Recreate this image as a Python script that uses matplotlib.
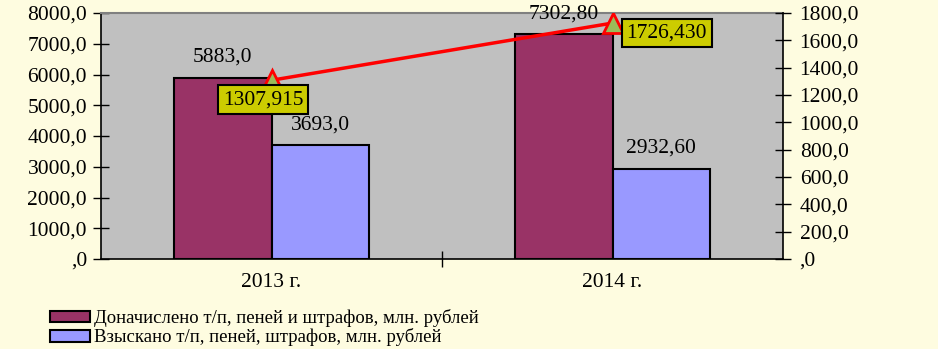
import matplotlib.pyplot as plt
import numpy as np

plt.rcParams['font.family'] = ['Liberation Serif', 'DejaVu Serif']

years = ['2013 г.', '2014 г.']
accrued = [5883.0, 7302.80]
collected = [3693.0, 2932.60]
accrued_lbl = ['5883,0', '7302,80']
collected_lbl = ['3693,0', '2932,60']
ratio = [1307.915, 1726.430]
ratio_lbl = ['1307,915', '1726,430']

bg = '#FEFCE0'
fs = 15.5

fig = plt.figure(figsize=(9.38, 3.49), dpi=100, facecolor=bg)
ax = fig.add_axes([101/938, 1-259/349, 682/938, 246/349])
ax.set_facecolor('#C0C0C0')

x = np.arange(len(years))
w = 0.285
b1 = ax.bar(x - w/2, accrued, w, color='#993366', edgecolor='black', lw=1.5,
            label='Доначислено т/п, пеней и штрафов, млн. рублей')
b2 = ax.bar(x + w/2, collected, w, color='#9999FF', edgecolor='black', lw=1.5,
            label='Взыскано т/п, пеней, штрафов, млн. рублей')

for rect, t in zip(b1, accrued_lbl):
    ax.annotate(t, (rect.get_x() + rect.get_width()/2, rect.get_height()),
                xytext=(0, 8), textcoords='offset points', ha='center', va='bottom', fontsize=fs)
for rect, t in zip(b2, collected_lbl):
    ax.annotate(t, (rect.get_x() + rect.get_width()/2, rect.get_height()),
                xytext=(0, 8), textcoords='offset points', ha='center', va='bottom', fontsize=fs)

ax.set_xlim(-0.5, 1.5)
ax.set_ylim(0, 8000)
ax.set_yticks(np.arange(0, 8001, 1000))
ax.set_yticklabels([',0'] + ['%d,0' % v for v in range(1000, 8001, 1000)])
ax.set_xticks(x)
ax.set_xticklabels(years)
ax.set_xticks([0.5], minor=True)
ax.tick_params(axis='x', which='major', length=0, pad=10, labelsize=fs)
ax.tick_params(axis='x', which='minor', direction='inout', length=12, width=1)
ax.tick_params(axis='y', direction='inout', length=12, width=1, labelsize=fs, pad=4)
for s in ['left', 'bottom']:
    ax.spines[s].set_color('black')
    ax.spines[s].set_linewidth(1.2)
ax.spines['top'].set_color('#808080')
ax.spines['top'].set_linewidth(1.5)
ax.spines['right'].set_visible(False)

ax2 = ax.twinx()
ax2.plot(x, ratio, color='red', lw=2.5, marker='^', markersize=14,
         markerfacecolor='#9BBB59', markeredgecolor='red', markeredgewidth=2, zorder=5)
ax2.set_ylim(0, 1800)
ax2.set_yticks(np.arange(0, 1801, 200))
ax2.set_yticklabels([',0'] + ['%d,0' % v for v in range(200, 1801, 200)])
ax2.tick_params(axis='y', direction='inout', length=12, width=1, labelsize=fs, pad=6)
ax2.spines['right'].set_color('black')
ax2.spines['right'].set_linewidth(1.2)
for s in ['left', 'top', 'bottom']:
    ax2.spines[s].set_visible(False)

box = dict(boxstyle='square,pad=0.22', facecolor='#CCCC00', edgecolor='black', lw=1.5)
ax2.annotate(ratio_lbl[0], (x[0], ratio[0]), xytext=(-6, -14), textcoords='offset points',
             ha='center', va='center', fontsize=fs, bbox=box, zorder=6)
ax2.annotate(ratio_lbl[1], (x[1], ratio[1]), xytext=(10, -7), textcoords='offset points',
             ha='left', va='center', fontsize=fs, bbox=box, zorder=6)

ax.legend(loc='upper left', bbox_to_anchor=(50/938, 1-309/349), bbox_transform=fig.transFigure,
          frameon=False, fontsize=13.5, handlelength=2.15, handleheight=0.55,
          handletextpad=0.2, labelspacing=0.08, borderpad=0, borderaxespad=0)

fig.savefig('out.png', dpi=100, facecolor=bg)
